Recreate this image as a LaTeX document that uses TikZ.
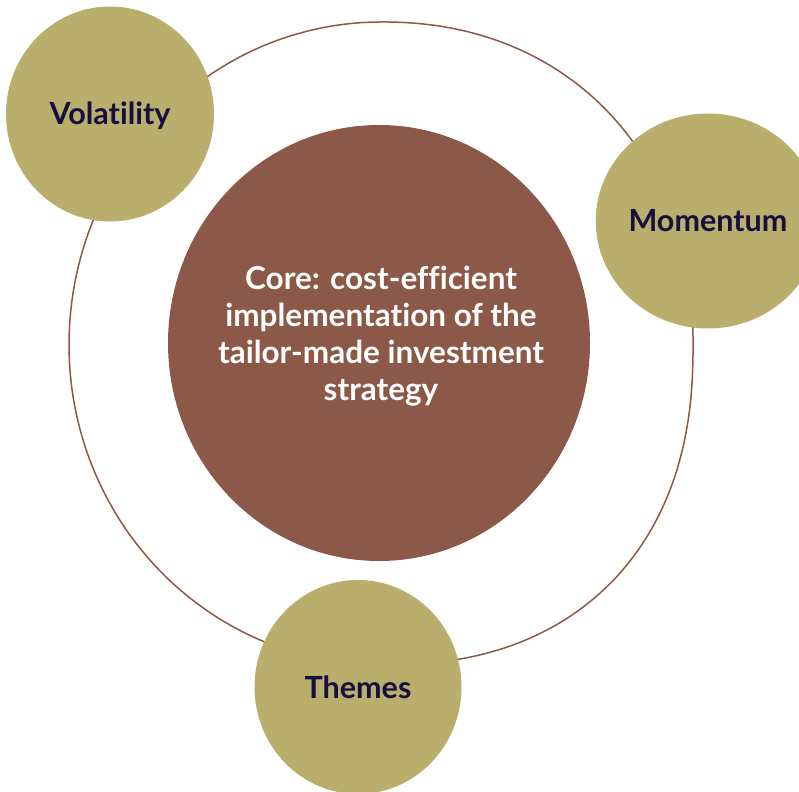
\documentclass[tikz,border=0pt]{standalone}
\usepackage{fontspec}
\setmainfont{Lato}[Ligatures={NoCommon}]
\usetikzlibrary{shapes.geometric}
\definecolor{corebrown}{RGB}{140,88,71}
\definecolor{olive}{RGB}{185,174,107}
\definecolor{navy}{RGB}{22,15,63}
\tikzset{
  satellite/.style={ellipse, fill=olive, inner sep=0pt, text=navy,
    font=\bfseries\fontsize{30.5}{36}\selectfont, text height=22pt, text depth=0pt},
  ringline/.style={draw=corebrown, line width=1.5pt},
  coretext/.style={text=white, align=center, font=\bfseries\fontsize{31.5}{37}\selectfont},
  declare function={
    ringex(\t)=(cos(\t)>0) ? ((sin(\t)>0) ? 0.87 : 0.93) : 1;
    ringry(\t)=(sin(\t)>0) ? 320 : 323;
  }
}
\begin{document}
\begin{tikzpicture}[x=1pt,y=-1pt]
\useasboundingbox (0,0) rectangle (799,791);
% outer ring
\draw[ringline] plot[smooth cycle, domain=1:359, samples=180]
  ({381+312*sign(cos(\x))*pow(abs(cos(\x)),ringex(\x))},
   {345+ringry(\x)*sign(sin(\x))*pow(abs(sin(\x)),ringex(\x))});
% core
\fill[corebrown] (379,343) ellipse [x radius=211, y radius=218];
\node[coretext] (core) at (381,336) {Core: cost-efficient\\implementation of the\\tailor-made investment\\strategy};
% satellites
\node[satellite, minimum width=208pt, minimum height=215pt] (vol) at (110,114) {Volatility};
\node[satellite, minimum width=216pt, minimum height=215pt] (mom) at (708,221) {Momentum};
\node[satellite, minimum width=207pt, minimum height=214pt] (thm) at (358,687) {Themes};
\end{tikzpicture}
\end{document}
